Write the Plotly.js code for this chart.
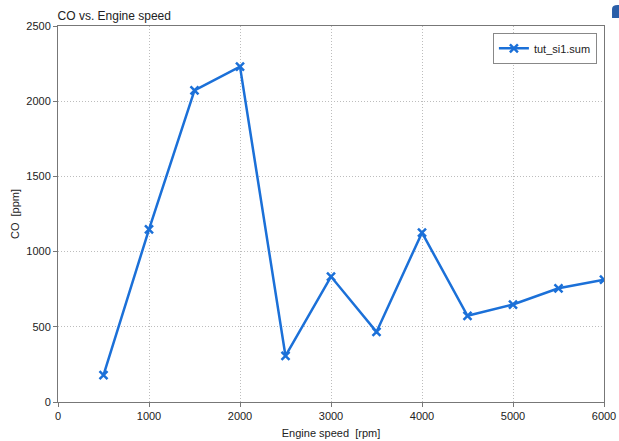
<!DOCTYPE html>
<html>
<head>
<meta charset="utf-8">
<script src="https://cdn.plot.ly/plotly-3.0.1.min.js"></script>
<style>html,body{margin:0;padding:0;background:#fff;}#chart{width:619px;height:441px;}</style>
</head>
<body>
<div id="chart"></div>
<script>
const engineSpeed = [500, 1000, 1500, 2000, 2500, 3000, 3500, 4000, 4500, 5000, 5500, 6000];
const coPpm = [178, 1148, 2072, 2230, 306, 834, 466, 1126, 573, 648, 756, 813];
const seriesName = 'tut_si1.sum';
const xTicks = [0, 1000, 2000, 3000, 4000, 5000, 6000];
const yTicks = [0, 500, 1000, 1500, 2000, 2500];

const blue = '#1b70d8';
const font = 'Liberation Sans, Arial, sans-serif';

Plotly.newPlot('chart', [{
  x: engineSpeed, y: coPpm, name: seriesName, type: 'scatter', mode: 'lines+markers',
  line: {color: blue, width: 2.5},
  marker: {symbol: 'x-thin', size: 8, color: blue, line: {color: blue, width: 2.5}}
}], {
  width: 619, height: 441,
  margin: {l: 58, r: 15, t: 26, b: 39},
  paper_bgcolor: '#fff', plot_bgcolor: '#fff',
  font: {family: font, size: 11, color: '#222'},
  title: {text: 'CO vs. Engine speed', x: 0.093, xanchor: 'left', y: 0.965, yanchor: 'middle', font: {family: font, size: 12, color: '#222'}},
  showlegend: true,
  legend: {x: 0.987, xanchor: 'right', y: 0.982, yanchor: 'top', bordercolor: '#888', borderwidth: 1, bgcolor: '#fff', itemwidth: 30, tracegroupgap: 0, font: {family: font, size: 11, color: '#222'}},
  xaxis: {
    range: [0, 6000], tickvals: xTicks, ticks: 'outside', ticklen: 4, tickcolor: '#777',
    showline: true, linecolor: '#777', linewidth: 1, mirror: true,
    showgrid: true, gridcolor: '#bdbdbd', gridwidth: 1, griddash: '1px,2px', zeroline: false,
    title: {text: 'Engine speed  [rpm]', standoff: 8, font: {family: font, size: 11, color: '#222'}}
  },
  yaxis: {
    range: [0, 2500], tickvals: yTicks, ticks: 'outside', ticklen: 4, tickcolor: '#777',
    showline: true, linecolor: '#777', linewidth: 1, mirror: true,
    showgrid: true, gridcolor: '#bdbdbd', gridwidth: 1, griddash: '1px,2px', zeroline: false,
    title: {text: 'CO  [ppm]', standoff: 4, font: {family: font, size: 11, color: '#222'}}
  },
  shapes: [{
    type: 'path', xref: 'paper', yref: 'paper',
    path: 'M 1.0147 1.021 L 1.0147 1.045 Q 1.0147 1.056 1.025 1.056 L 1.03 1.056 L 1.03 1.021 Z',
    fillcolor: '#2a5ea8', line: {width: 0}
  }]
}, {displayModeBar: false, staticPlot: true});
</script>
</body>
</html>
